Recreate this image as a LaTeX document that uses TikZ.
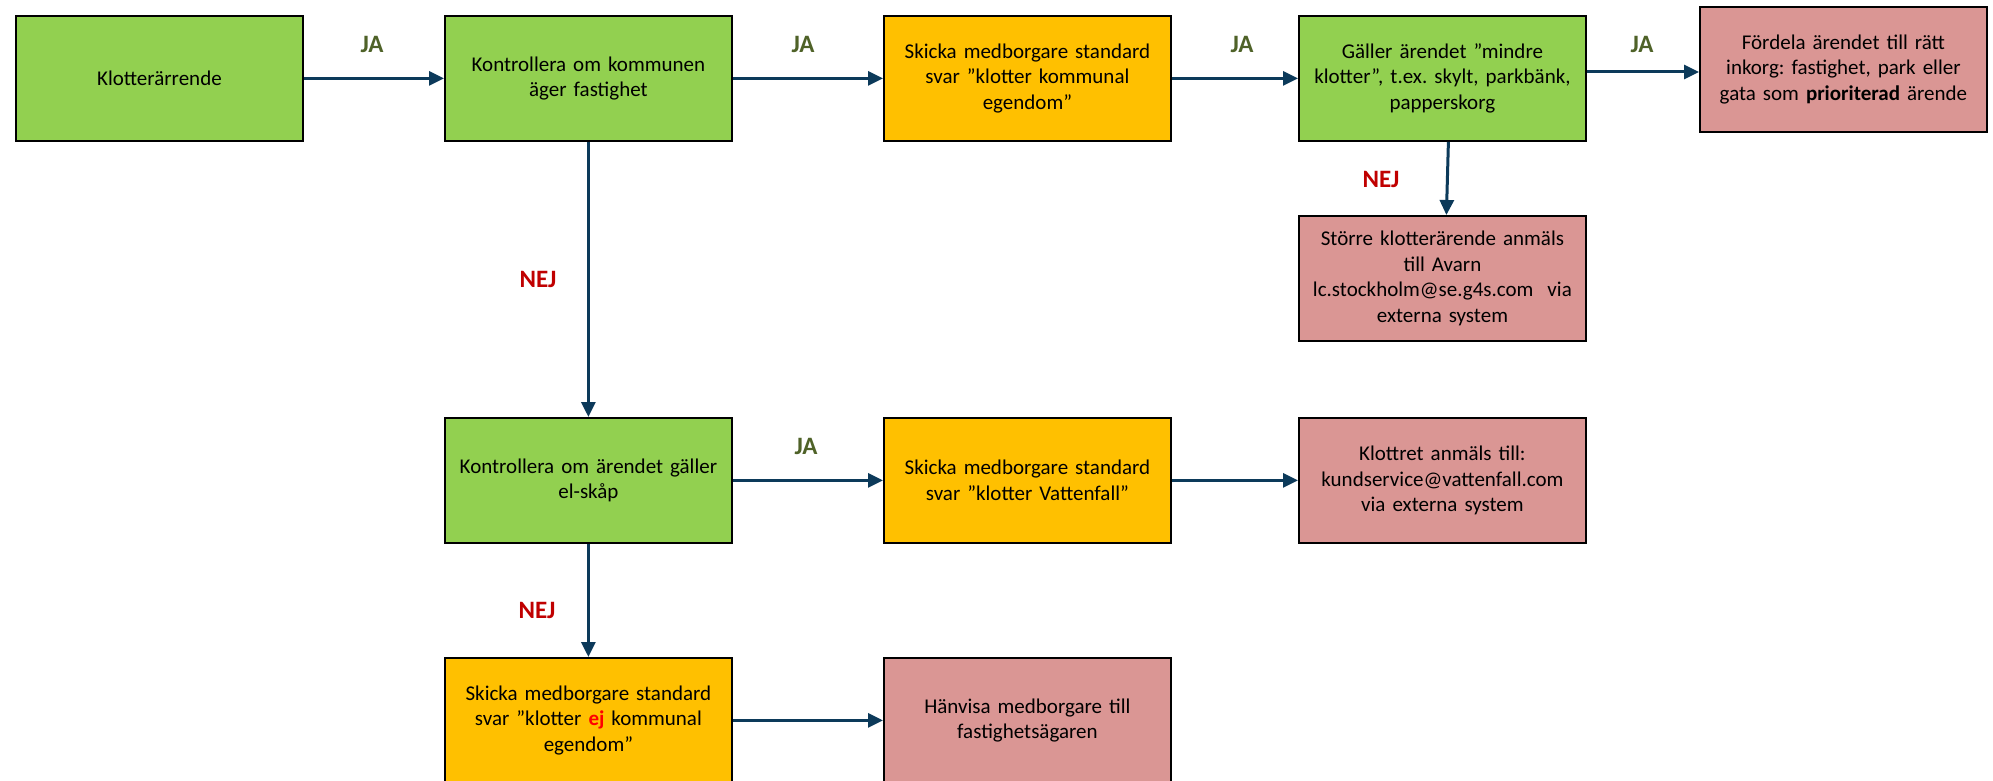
\documentclass[tikz,border=0pt]{standalone}
\usepackage{fontspec}
\setmainfont{Carlito}
\usetikzlibrary{arrows.meta}
\definecolor{grn}{HTML}{92D050}
\definecolor{org}{HTML}{FFC000}
\definecolor{pnk}{HTML}{DA9694}
\definecolor{arr}{HTML}{0C3A5A}
\definecolor{jacol}{HTML}{4F6228}
\definecolor{nejcol}{HTML}{C00000}
\definecolor{ejred}{HTML}{FF0000}
\frenchspacing
\begin{document}
\begin{tikzpicture}[x=1pt,y=-1pt,
  box/.style={draw=black, line width=1.8pt, minimum width=287pt, minimum height=125pt,
    anchor=north west, align=center, inner sep=0pt, text width=282pt,
    font=\fontsize{21}{25.5}\selectfont},
  gbox/.style={box, fill=grn},
  obox/.style={box, fill=org},
  pbox/.style={box, fill=pnk},
  conn/.style={draw=arr, line width=3pt, -{Triangle[length=15pt,width=14pt]}},
  ja/.style={text=jacol, font=\fontsize{25}{30}\selectfont\bfseries, inner sep=0pt},
  nej/.style={text=nejcol, font=\fontsize{25}{30}\selectfont\bfseries, inner sep=0pt}
]
\useasboundingbox (0,0) rectangle (1993,781);
% row 1
\node[gbox] (b1) at (15,15) {Klotterärrende};
\node[gbox] (b2) at (444,15) {Kontrollera om kommunen\\äger fastighet};
\node[obox] (b3) at (883,15) {Skicka medborgare standard\\svar ”klotter kommunal\\egendom”};
\node[gbox] (b4) at (1298,15) {Gäller ärendet ”mindre\\klotter”, t.ex. skylt, parkbänk,\\papperskorg};
\node[pbox] (b5) at (1699,6) {Fördela ärendet till rätt\\inkorg: fastighet, park eller\\gata som \textbf{prioriterad} ärende};
\node[pbox] (b6) at (1298,215) {Större klotterärende anmäls\\till Avarn\\lc.stockholm@se.g4s.com\ \ via\\externa system};
% row 2
\node[gbox] (b7) at (444,417) {Kontrollera om ärendet gäller\\el-skåp};
\node[obox] (b8) at (883,417) {Skicka medborgare standard\\svar ”klotter Vattenfall”};
\node[pbox] (b9) at (1298,417) {Klottret anmäls till:\\kundservice@vattenfall.com\\via externa system};
% row 3
\node[obox] (b10) at (444,657) {Skicka medborgare standard\\svar ”klotter \textcolor{ejred}{\textbf{ej}} kommunal\\egendom”};
\node[pbox] (b11) at (883,657) {Hänvisa medborgare till\\fastighetsägaren};
% connectors
\coordinate (y45) at (0,72);
\draw[conn] (b1) -- (b2);
\draw[conn] (b2) -- (b3);
\draw[conn] (b3) -- (b4);
\draw[conn] (b4.east |- y45) -- (b5.west |- y45);
\draw[conn] ([xshift=6pt]b4.south) -- ([xshift=4pt]b6.north);
\draw[conn] (b2) -- (b7);
\draw[conn] (b7) -- (b8);
\draw[conn] (b8) -- (b9);
\draw[conn] (b7) -- (b10);
\draw[conn] (b10) -- (b11);
% labels
\node[ja] (l1) at (372,44) {JA};
\node[ja] (l2) at (803,44) {JA};
\node[ja] (l3) at (1242,44) {JA};
\node[ja] (l4) at (1642,44) {JA};
\node[nej] (l5) at (1381,179) {NEJ};
\node[nej] (l6) at (538,279) {NEJ};
\node[ja] (l7) at (806,446) {JA};
\node[nej] (l8) at (537,610) {NEJ};
\end{tikzpicture}
\end{document}
